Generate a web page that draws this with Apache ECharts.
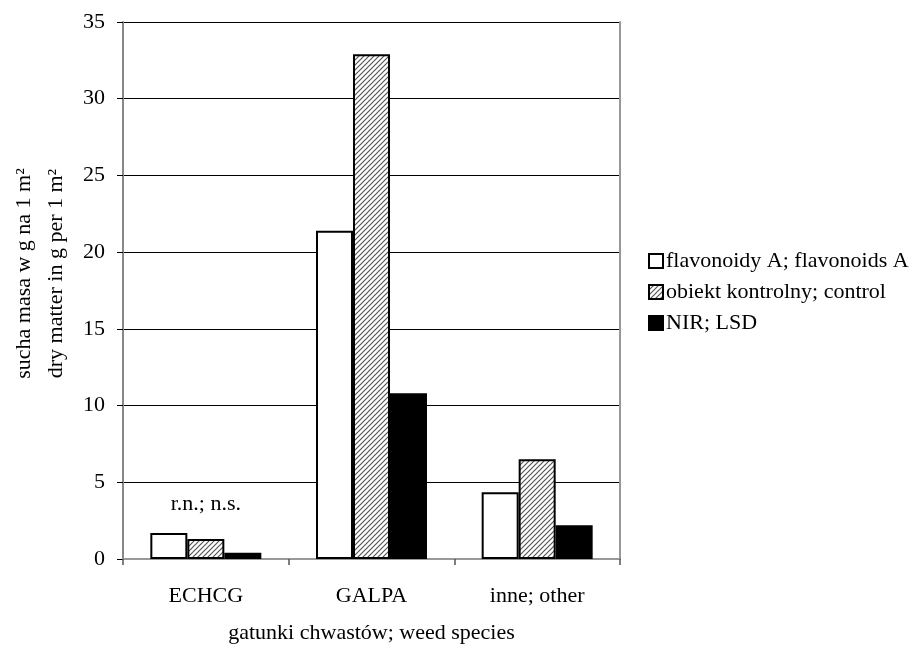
<!DOCTYPE html>
<html>
<head>
<meta charset="utf-8">
<script src="https://cdn.jsdelivr.net/npm/echarts@6/dist/echarts.min.js"></script>
<style>html,body{margin:0;padding:0;background:#fff;}#c{width:920px;height:645px;}</style>
</head>
<body>
<div id="c"></div>
<script>
const categories = ['ECHCG', 'GALPA', 'inne; other'];
const seriesNames = ['flavonoidy A; flavonoids A', 'obiekt kontrolny; control', 'NIR; LSD'];
const flavonoidsA = [1.7, 21.4, 4.35];
const control = [1.3, 32.9, 6.5];
const lsd = [0.4, 10.8, 2.2];
const yTicks = { min: 0, max: 35, interval: 5 };
const annotationText = 'r.n.; n.s.';
const xAxisTitle = 'gatunki chwastów; weed species';
const yAxisTitle = 'sucha masa w g na 1 m²\ndry matter in g per 1 m²';

const FONT = "'Liberation Serif', 'Times New Roman', serif";

function hatch() {
  const s = 5;
  const c = document.createElement('canvas');
  c.width = s; c.height = s;
  const g = c.getContext('2d');
  g.fillStyle = '#fff';
  g.fillRect(0, 0, s, s);
  g.strokeStyle = '#555';
  g.lineWidth = 1.2;
  g.beginPath();
  g.moveTo(-1, s + 1); g.lineTo(s + 1, -1);
  g.moveTo(-1, 1); g.lineTo(1, -1);
  g.moveTo(s - 1, s + 1); g.lineTo(s + 1, s - 1);
  g.stroke();
  return c;
}

const chart = echarts.init(document.getElementById('c'));
const txt = { fontFamily: FONT, fontSize: 22, color: '#000' };

chart.setOption({
  animation: false,
  backgroundColor: '#fff',
  textStyle: { fontFamily: FONT },
  grid: { left: 123, right: 300, top: 22, bottom: 86, containLabel: false, outerBoundsMode: 'none' },
  legend: {
    orient: 'vertical', left: 643, top: 245,
    icon: 'rect',
    itemWidth: 14, itemHeight: 14, itemGap: 9,
    textStyle: Object.assign({}, txt, { padding: [0, 0, 0, -2] }),
    data: seriesNames
  },
  xAxis: [{
    type: 'category', data: categories, position: 'bottom',
    axisLine: { lineStyle: { color: '#555', width: 2 } },
    axisTick: { show: true, length: 6, lineStyle: { color: '#555', width: 1.5 } },
    axisLabel: Object.assign({}, txt, { margin: 26 }),
    name: xAxisTitle, nameLocation: 'middle', nameGap: 63,
    nameTextStyle: txt
  }, {
    type: 'category', data: categories, position: 'top',
    axisLine: { show: true, lineStyle: { color: '#999', width: 2 } },
    axisTick: { show: false }, axisLabel: { show: false }
  }],
  yAxis: [{
    type: 'value', min: yTicks.min, max: yTicks.max, interval: yTicks.interval,
    axisLine: { show: true, lineStyle: { color: '#888', width: 2 } },
    axisTick: { show: true, length: 6, lineStyle: { color: '#000', width: 1 } },
    axisLabel: Object.assign({}, txt, { margin: 18 }),
    splitLine: { show: true, lineStyle: { color: '#000', width: 1 } },
    name: yAxisTitle, nameLocation: 'middle', nameRotate: 90, nameGap: 47,
    nameTextStyle: Object.assign({}, txt, { lineHeight: 32, padding: [0, 0, 0, 34] })
  }, {
    type: 'value', min: yTicks.min, max: yTicks.max, interval: yTicks.interval, position: 'right',
    axisLine: { show: true, lineStyle: { color: '#999', width: 2 } },
    axisTick: { show: false }, axisLabel: { show: false }, splitLine: { show: false }
  }],
  series: [{
    name: seriesNames[0], type: 'bar', data: flavonoidsA,
    barCategoryGap: '33%', barGap: '0%',
    itemStyle: { color: '#fff', borderColor: '#000', borderWidth: 2 }
  }, {
    name: seriesNames[1], type: 'bar',
    data: control.map((v, i) => i === 0 ? { value: v, label: { show: true, formatter: annotationText, position: 'top', distance: 24, fontFamily: FONT, fontSize: 22, color: '#000' } } : v),
    barGap: '0%',
    itemStyle: { color: { image: hatch(), repeat: 'repeat' }, borderColor: '#000', borderWidth: 2 }
  }, {
    name: seriesNames[2], type: 'bar', data: lsd, barGap: '0%',
    itemStyle: { color: '#000', borderColor: '#000', borderWidth: 2 }
  }]
});
</script>
</body>
</html>
